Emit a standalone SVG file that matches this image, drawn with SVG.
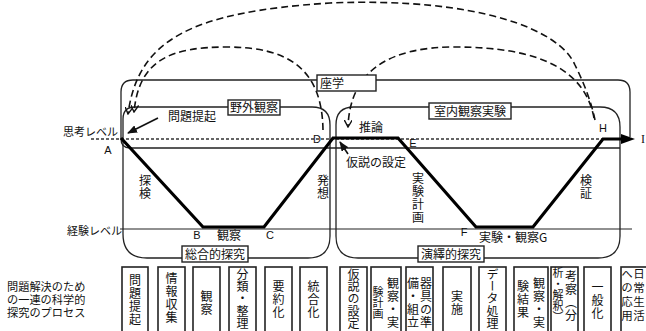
<svg xmlns="http://www.w3.org/2000/svg" width="646" height="331" viewBox="0 0 646 331">
<style>
.t{font-family:"Noto Sans CJK JP","Noto Sans",sans-serif;font-size:12px;fill:#111}
.s{font-size:11px}
.m{font-size:11.2px}
.l{font-family:"Liberation Sans",Arial,sans-serif;font-size:11px;fill:#111}
.v{writing-mode:vertical-rl;letter-spacing:1px}
.v5{letter-spacing:0.4px}
.box{fill:none;stroke:#222;stroke-width:1.3}
.lbl{fill:#fff;stroke:#222;stroke-width:1.4}
.step{fill:#fff;stroke:#222;stroke-width:1.6}
.dash{fill:none;stroke:#111;stroke-width:1.6;stroke-dasharray:7 4}
.thin{fill:none;stroke:#222;stroke-width:1.2}
</style>
<defs>
<marker id="v" viewBox="0 0 8 8" refX="7" refY="4" markerWidth="8" markerHeight="8" orient="auto" markerUnits="userSpaceOnUse"><path d="M0,0 L7,4 L0,8" fill="none" stroke="#111" stroke-width="1.4"/></marker>
<marker id="f" viewBox="0 0 10 8" refX="9" refY="4" markerWidth="10" markerHeight="8" orient="auto" markerUnits="userSpaceOnUse"><path d="M0,0 L10,4 L0,8 Z" fill="#111"/></marker>
</defs>
<rect width="646" height="331" fill="#fff"/>

<g id="frames">
<path class="box" d="M630,137 V92 Q630,80 618,80 H133 Q121,80 121,92 V139 Q121,148 130,148 H620"/>
<path class="box" d="M135,107 H312 Q330,107 330,125 V236 Q330,258 308,258 H147 Q123,258 123,234 V119 Q123,107 135,107 Z"/>
<path class="box" d="M354,107 H600 Q620,107 620,127 V236 Q620,258 598,258 H358 Q336,258 336,236 V125 Q336,107 354,107 Z"/>
<line class="thin" x1="120" y1="229" x2="632" y2="229"/>
<line x1="91" y1="139" x2="624" y2="139" stroke="#333" stroke-width="1.4" stroke-dasharray="3 2"/>
</g>

<g id="connectors">
<path class="dash" d="M595,120 C592,105 585,85 575,65 C560,30 480,-3 330,3 C190,12 138,40 128,114" marker-end="url(#v)"/>
<path class="dash" d="M323,130 C322,70 290,47 227,47 C170,47 139,60 134,112" marker-end="url(#v)"/>
<path class="dash" d="M594,118 C585,70 540,47 455,47 C390,47 350,70 348,127" marker-end="url(#v)"/>
<line x1="158" y1="118" x2="128" y2="133" stroke="#111" stroke-width="1.6" marker-end="url(#f)"/>
<line x1="348" y1="154" x2="340" y2="142" stroke="#111" stroke-width="1.6" marker-end="url(#f)"/>
<path d="M121,138 L203,227 L264,227 L333,138 L398,138 L476,227 L533,227 L603,139 L624,139" fill="none" stroke="#000" stroke-width="3.2" stroke-linejoin="miter"/>
<polygon points="621,134 635,139 621,144" fill="#000"/>
</g>

<g id="label-zagaku"><rect class="lbl" x="317" y="75" width="59" height="16"/><text class="t" x="320" y="87.5">座学</text></g>
<g id="label-yagai"><rect class="lbl" x="228" y="100" width="52" height="15"/><text class="t" x="254" y="112" text-anchor="middle">野外観察</text></g>
<g id="label-shitsunai"><rect class="lbl" x="429" y="103" width="82" height="16"/><text class="t" x="470" y="115.5" text-anchor="middle">室内観察実験</text></g>
<g id="label-sogo"><rect class="lbl" x="182" y="246" width="66" height="16"/><text class="t" x="215" y="258.5" text-anchor="middle">総合的探究</text></g>
<g id="label-eneki"><rect class="lbl" x="418" y="246" width="66" height="16"/><text class="t" x="451" y="258.5" text-anchor="middle">演繹的探究</text></g>

<g id="texts">
<text class="t s" x="63" y="136">思考レベル</text>
<text class="t s" x="67" y="235">経験レベル</text>
<text class="t" x="168" y="121">問題提起</text>
<text class="t" x="359" y="132">推論</text>
<text class="t" x="346" y="167">仮説の設定</text>
<text class="t" x="217" y="239.5">観察</text>
<text class="t" x="479" y="242">実験・観察G</text>
<text class="t v" x="145" y="174">探検</text>
<text class="t v" x="323" y="174">発想</text>
<text class="t v" x="418" y="172">実験計画</text>
<text class="t v" x="586" y="174">検証</text>
<text class="l" x="108" y="154" text-anchor="middle">A</text>
<text class="l" x="197" y="239" text-anchor="middle">B</text>
<text class="l" x="270" y="239" text-anchor="middle">C</text>
<text class="l" x="317" y="143" text-anchor="middle">D</text>
<text class="l" x="413" y="147" text-anchor="middle">E</text>
<text class="l" x="464" y="236" text-anchor="middle">F</text>
<text class="l" x="603" y="132" text-anchor="middle">H</text>
<text x="641" y="143" font-family="Liberation Serif,serif" font-size="12" fill="#111">I</text>
<text class="t m" x="7" y="291">問題解決のため</text>
<text class="t m" x="7" y="304">の一連の科学的</text>
<text class="t m" x="7" y="317">探究のプロセス</text>
</g>

<g id="step1"><rect class="step" x="122" y="267" width="26" height="70"/><text class="t v" x="135" y="274">問題提起</text></g>
<g id="step2"><rect class="step" x="158" y="267" width="27" height="70"/><text class="t v" x="171.5" y="272">情報収集</text></g>
<g id="step3"><rect class="step" x="193" y="267" width="27" height="70"/><text class="t v" x="206.5" y="290">観察</text></g>
<g id="step4"><rect class="step" x="229" y="267" width="27" height="70"/><text class="t v v5" x="242.5" y="268">分類・整理</text></g>
<g id="step5"><rect class="step" x="265" y="267" width="27" height="70"/><text class="t v" x="278.5" y="280">要約化</text></g>
<g id="step6"><rect class="step" x="300" y="267" width="27" height="70"/><text class="t v" x="313.5" y="280">統合化</text></g>
<g id="step7"><rect class="step" x="340" y="267" width="27" height="70"/><text class="t v v5" x="353.5" y="268">仮説の設定</text></g>
<g id="step8"><rect class="step" x="371" y="267" width="30" height="70"/><text class="t v" x="393" y="277">観察・実</text><text class="t v" x="378" y="286" style="font-size:11px;letter-spacing:0">験計画</text></g>
<g id="step9"><rect class="step" x="406" y="267" width="27" height="70"/><text class="t v" x="426" y="277">器具の準</text><text class="t v" x="413" y="277">備・組立</text></g>
<g id="step10"><rect class="step" x="443" y="267" width="28" height="70"/><text class="t v" x="457" y="290">実施</text></g>
<g id="step11"><rect class="step" x="479" y="267" width="27" height="70"/><text class="t v v5" x="492.5" y="268">データ処理</text></g>
<g id="step12"><rect class="step" x="514" y="267" width="34" height="70"/><text class="t v" x="539" y="277">観察・実</text><text class="t v" x="523" y="280">験結果</text></g>
<g id="step13"><rect class="step" x="551" y="267" width="27" height="70"/><text class="t v" x="571" y="270">考察（分</text><text class="t v" x="558" y="267" style="font-size:11px;letter-spacing:0">析・解釈）</text></g>
<g id="step14"><rect class="step" x="584" y="267" width="27" height="70"/><text class="t v" x="597.5" y="281">一般化</text></g>
<g id="step15"><rect class="step" x="621" y="267" width="30" height="70"/><text class="t v" x="639" y="268" style="font-size:11.5px;letter-spacing:2.5px">日常生活</text><text class="t v" x="627" y="268" style="font-size:11.5px;letter-spacing:2.5px">への応用</text></g>
</svg>
